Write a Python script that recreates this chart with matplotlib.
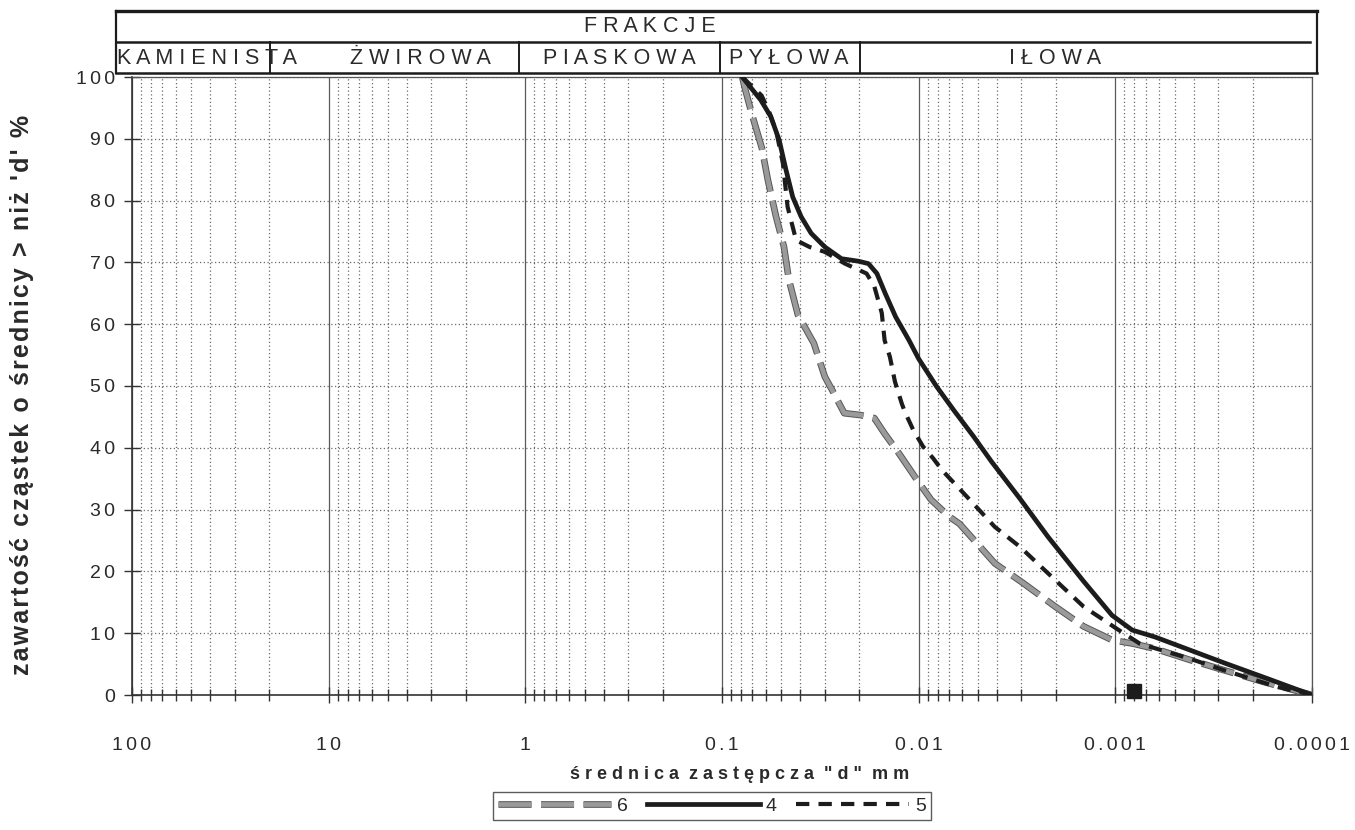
import matplotlib.pyplot as plt
import matplotlib.patheffects as pe
from matplotlib.lines import Line2D
from matplotlib.ticker import FixedLocator, LogLocator, NullFormatter

plt.rcParams['font.family'] = ['Liberation Sans', 'DejaVu Sans']

# grain size curves: diameter d [mm] vs. percent finer
d4 = [0.0789, 0.0636, 0.0565, 0.0512, 0.0473, 0.0437, 0.0396, 0.0352, 0.0300,
      0.0247, 0.0203, 0.0180, 0.0163, 0.0148, 0.0131, 0.0112, 0.0100, 0.0081,
      0.0066, 0.00525, 0.00427, 0.00306, 0.0022, 0.00145, 0.00104, 0.00082,
      0.00063, 0.00042, 0.00028, 0.00017, 0.0001]
p4 = [100, 96.3, 93.6, 89.8, 85.0, 80.6, 77.4, 74.7, 72.5,
      70.6, 70.2, 69.8, 68.2, 65.0, 61.2, 57.4, 54.4, 49.9,
      46.0, 41.8, 37.8, 31.8, 25.6, 18.4, 12.9, 10.5,
      9.4, 7.3, 5.2, 2.7, 0]

d5 = [0.0789, 0.0629, 0.0573, 0.0528, 0.0490, 0.0464, 0.0420, 0.0359, 0.0300,
      0.0237, 0.0184, 0.0168, 0.0154, 0.0149, 0.0140, 0.0132, 0.0122, 0.01175,
      0.01066, 0.0095, 0.00844, 0.00762, 0.00569, 0.0041, 0.00306, 0.0022,
      0.00145, 0.00096, 0.00075, 0.00042, 0.00028, 0.00015, 0.0001]
p5 = [100, 97.0, 94.2, 91.0, 86.0, 79.0, 73.6, 72.5, 71.7,
      69.8, 68.2, 66.1, 61.8, 57.4, 54.7, 50.7, 47.2, 45.8,
      42.9, 40.2, 38.3, 36.4, 32.1, 27.2, 24.0, 19.7,
      14.3, 10.5, 8.3, 5.9, 4.0, 1.3, 0]

d6 = [0.0789, 0.0765, 0.0705, 0.0627, 0.0584, 0.0532, 0.0484, 0.0457, 0.0411,
      0.0341, 0.0320, 0.0300, 0.0276, 0.0239, 0.0198, 0.0168, 0.0149, 0.0126,
      0.0102, 0.00865, 0.00702, 0.0062, 0.00504, 0.0041, 0.00294, 0.00202,
      0.00145, 0.00104, 0.00081, 0.00063, 0.00042, 0.00030, 0.00018, 0.0001]
p6 = [100, 98.2, 94.0, 88.5, 83.3, 77.5, 72.5, 67.2, 61.5,
      56.9, 54.2, 51.5, 49.4, 45.6, 45.3, 44.8, 42.3, 39.1,
      34.8, 31.6, 28.9, 27.7, 24.5, 21.3, 18.1, 14.3,
      11.1, 8.9, 8.3, 7.5, 5.7, 4.3, 2.2, 0]

marker_d = [0.0008]
marker_p = [0.7]

x_ticks = [100, 10, 1, 0.1, 0.01, 0.001, 0.0001]
x_labels = ["100", "10", "1", "0.1", "0.01", "0.001", "0.0001"]
y_ticks = list(range(0, 101, 10))

header_title = "FRAKCJE"
fractions = ["KAMIENISTA", "ŻWIROWA", "PIASKOWA", "PYŁOWA", "IŁOWA"]

HAIR = "\u200a"
SIXTH = "\u2006"
INK = "#1c1c1c"
TXT = "#2a2a2a"
GRAY = "#9a9a9a"

W, H = 1355, 830


def spaced(s, sep=HAIR):
    return sep.join(s)


fig = plt.figure(figsize=(W / 100, H / 100), dpi=100)

# header table drawn in pixel coordinates
ov = fig.add_axes([0, 0, 1, 1])
ov.set_xlim(0, W)
ov.set_ylim(H, 0)
ov.axis("off")
ov.plot([116, 1317], [11, 11], color=INK, lw=2.4)
ov.plot([116, 1310], [42, 42], color=INK, lw=1.8)
ov.plot([116, 1317], [73, 73], color=INK, lw=1.8)
ov.plot([116, 116], [11, 73], color=INK, lw=1.6)
ov.plot([1317, 1317], [11, 73], color=INK, lw=1.6)
for xs in [270, 519, 720, 860]:
    ov.plot([xs, xs], [42, 73], color=INK, lw=1.4)
ov.text(650, 27, " ".join(header_title), ha="center", va="center", fontsize=15.5, color=TXT)
for name, xc in zip(fractions, [207, 420, 619, 789, 1055]):
    ov.text(xc, 58, " ".join(name), ha="center", va="center", fontsize=15.5, color=TXT)

ax = fig.add_axes([132 / W, 1 - 695 / H, 1180 / W, 618 / H])
ax.set_xscale("log")

ax.plot(d6, p6, color=GRAY, lw=3.4, ls=(0, (7, 2)), zorder=3,
        path_effects=[pe.Stroke(linewidth=4.8, foreground="#555555"), pe.Normal()])
ax.plot(d4, p4, color=INK, lw=3.4, zorder=4)
ax.plot(d5, p5, color=INK, lw=3.0, ls=(0, (3.2, 2.2)), zorder=4)
ax.plot(marker_d, marker_p, ls="none", marker="s", ms=10.5, color=INK, clip_on=False, zorder=5)

ax.set_xlim(100, 0.0001)
ax.set_ylim(0, 100)

ax.xaxis.set_major_locator(FixedLocator(x_ticks))
ax.set_xticklabels([spaced(s, SIXTH) for s in x_labels])
ax.xaxis.set_minor_locator(LogLocator(base=10, subs=range(2, 10), numticks=20))
ax.xaxis.set_minor_formatter(NullFormatter())
ax.set_yticks(y_ticks, [spaced(str(v), SIXTH) for v in y_ticks])

ax.grid(which="major", axis="x", color="#5a5a5a", lw=0.9, ls="-")
ax.grid(which="minor", axis="x", color="#6a6a6a", lw=0.9, ls=(0, (1, 2)))
ax.grid(which="major", axis="y", color="#6a6a6a", lw=0.9, ls=(0, (1, 2)))

for side in ["left", "bottom"]:
    ax.spines[side].set_color("#333333")
    ax.spines[side].set_linewidth(1.2)
for side in ["right", "top"]:
    ax.spines[side].set_color("#555555")
    ax.spines[side].set_linewidth(0.9)

ax.tick_params(axis="y", direction="inout", length=11, width=1, color="#333333",
               pad=7, labelsize=14, labelcolor=TXT)
ax.tick_params(axis="x", which="major", direction="inout", length=12, width=1,
               color="#333333", pad=24, labelsize=14, labelcolor=TXT)
ax.tick_params(axis="x", which="minor", direction="inout", length=8, width=1,
               color="#333333")

fig.text(740 / W, 1 - 774 / H,
         "  ".join(" ".join(w) for w in ["średnica", "zastępcza", '"d"', "mm"]),
         ha="center", va="center", fontsize=13, fontweight="bold", color=TXT)
fig.text(22 / W, 1 - 395 / H, spaced("zawartość cząstek o średnicy > niż 'd' %"),
         rotation=90, ha="center", va="center", fontsize=18, fontweight="bold", color=TXT)

handles = [
    Line2D([], [], color=GRAY, lw=3.4, ls=(0, (7, 2)),
           path_effects=[pe.Stroke(linewidth=4.8, foreground="#555555"), pe.Normal()]),
    Line2D([], [], color=INK, lw=3.4),
    Line2D([], [], color=INK, lw=3.0, ls=(0, (3.2, 2.2))),
]
leg = fig.legend(handles, ["6", "4", "5"], loc="center", bbox_to_anchor=(712 / W, 1 - 806 / H),
                 ncol=3, frameon=True, fancybox=False, edgecolor="#333333",
                 handlelength=5.8, handletextpad=0.3, columnspacing=1.0,
                 borderpad=0.25, fontsize=14)
leg.get_frame().set_linewidth(1.0)
for t in leg.get_texts():
    t.set_color(TXT)

plt.savefig("out.png", dpi=100)
plt.close()
